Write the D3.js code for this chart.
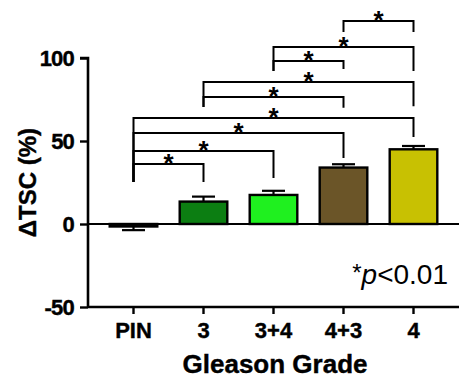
<!DOCTYPE html>
<html>
<head>
<meta charset="utf-8">
<script src="https://cdn.jsdelivr.net/npm/d3@7"></script>
<style>
  body { margin: 0; background: #fff; }
  svg { display: block; font-family: "Liberation Sans", Arial, sans-serif; }
</style>
</head>
<body>
<svg id="chart" width="459" height="381"></svg>
<script>
// data
const grades = ["PIN", "3", "3+4", "4+3", "4"];
const means = [-1.5, 13.5, 17.5, 34, 45];
const errs = [2.2, 3, 2.5, 2, 2];
const yTicks = [-50, 0, 50, 100];
const palette = ["#1a1a1a", "#0c7e12", "#1ff01f", "#6b5528", "#c8c102"];

// significance brackets: from, to, bar height, leg ends (all in % units)
const brackets = [
  { a: "4+3", b: "4", y: 122.3, la: 115.7, lb: 115.7 },
  { a: "3+4", b: "4", y: 106.6, la: 92.2, lb: 92.2 },
  { a: "3+4", b: "4+3", y: 98.2, la: 92.2, lb: 93.4 },
  { a: "3", b: "4", y: 85.5, la: 70.5, lb: 71 },
  { a: "3", b: "4+3", y: 76.5, la: 70.5, lb: 70 },
  { a: "PIN", b: "4", y: 63.9, la: 25.3, lb: 52.4 },
  { a: "PIN", b: "4+3", y: 54.8, la: 25.3, lb: 39.8 },
  { a: "PIN", b: "3+4", y: 44, la: 25.3, lb: 27.7 },
  { a: "PIN", b: "3", y: 36.1, la: 25.3, lb: 25.3 }
];

const svg = d3.select("#chart");
const mLeft = 88, mRight = 459, mTop = 58, mBottom = 307;

const x = d3.scaleBand()
  .domain(grades)
  .range([mLeft, mRight])
  .paddingInner(0.32)
  .paddingOuter(0.31);

const y = d3.scaleLinear().domain([-50, 100]).range([mBottom, mTop]);

const rows = grades.map((g, i) => ({ g, m: means[i], e: errs[i], c: palette[i] }));

// zero line
svg.append("line")
  .attr("x1", mLeft).attr("x2", mRight)
  .attr("y1", y(0)).attr("y2", y(0))
  .attr("stroke", "#000").attr("stroke-width", 2.2);

// bars
svg.append("g").selectAll("rect")
  .data(rows)
  .join("rect")
  .attr("x", d => x(d.g))
  .attr("width", x.bandwidth())
  .attr("y", d => y(Math.max(0, d.m)))
  .attr("height", d => Math.abs(y(d.m) - y(0)))
  .attr("fill", d => d.c)
  .attr("stroke", "#000")
  .attr("stroke-width", 2.4);

// error bars (one direction, away from zero)
const eb = svg.append("g").attr("stroke", "#000").attr("stroke-width", 2.2);
rows.forEach(d => {
  const cx = x(d.g) + x.bandwidth() / 2;
  const end = d.m + Math.sign(d.m) * d.e;
  eb.append("line").attr("x1", cx).attr("x2", cx).attr("y1", y(d.m)).attr("y2", y(end));
  eb.append("line").attr("x1", cx - 11.5).attr("x2", cx + 11.5).attr("y1", y(end)).attr("y2", y(end));
});

// axes
const yAxis = svg.append("g")
  .attr("transform", `translate(${mLeft},0)`)
  .call(d3.axisLeft(y).tickValues(yTicks).tickFormat(d => String(d))
    .tickSize(8).tickPadding(6).tickSizeOuter(0));
const xAxis = svg.append("g")
  .attr("transform", `translate(0,${mBottom})`)
  .call(d3.axisBottom(x).tickSize(7).tickPadding(8).tickSizeOuter(0));

[yAxis, xAxis].forEach(ax => {
  ax.select(".domain").attr("stroke-width", 2.6);
  ax.selectAll(".tick line").attr("stroke-width", 2.4);
  ax.selectAll(".tick text")
    .attr("fill", "#000")
    .attr("stroke", "#000")
    .attr("stroke-width", 0.4)
    .attr("font-size", 22)
    .attr("font-weight", "bold")
    .attr("font-family", "Liberation Sans, Arial, sans-serif");
});
yAxis.selectAll(".tick text").attr("letter-spacing", -0.8);
yAxis.select(".domain").attr("d", `M0,${mBottom}V${mTop}H-8`);
xAxis.select(".domain").attr("d", `M${mLeft},0H${mRight}`);

// brackets
const bk = svg.append("g");
brackets.forEach(b => {
  const xa = x(b.a) + x.bandwidth() / 2;
  const xb = x(b.b) + x.bandwidth() / 2;
  bk.append("path")
    .attr("d", `M${xa},${y(b.la)}V${y(b.y)}H${xb}V${y(b.lb)}`)
    .attr("fill", "none")
    .attr("stroke", "#000")
    .attr("stroke-width", 2);
  bk.append("text")
    .attr("x", (xa + xb) / 2)
    .attr("y", y(b.y) + 8)
    .attr("text-anchor", "middle")
    .attr("font-size", 26)
    .attr("font-weight", "bold")
    .text("*");
});

// axis titles
svg.append("text")
  .attr("transform", `translate(36,${(mTop + mBottom) / 2}) rotate(-90)`)
  .attr("text-anchor", "middle")
  .attr("font-size", 24)
  .attr("font-weight", "bold")
  .attr("stroke", "#000")
  .attr("stroke-width", 0.4)
  .text("\u0394TSC (%)");

svg.append("text")
  .attr("x", 275)
  .attr("y", 373)
  .attr("text-anchor", "middle")
  .attr("font-size", 26)
  .attr("font-weight", "bold")
  .attr("stroke", "#000")
  .attr("stroke-width", 0.4)
  .text("Gleason Grade");

// p-value note
const note = svg.append("text")
  .attr("x", 448)
  .attr("y", 284)
  .attr("text-anchor", "end")
  .attr("font-size", 28);
note.append("tspan").attr("font-size", 24).attr("dy", -3).text("*");
note.append("tspan").attr("font-style", "italic").attr("dy", 3).text("p");
note.append("tspan").text("<0.01");
</script>
</body>
</html>
